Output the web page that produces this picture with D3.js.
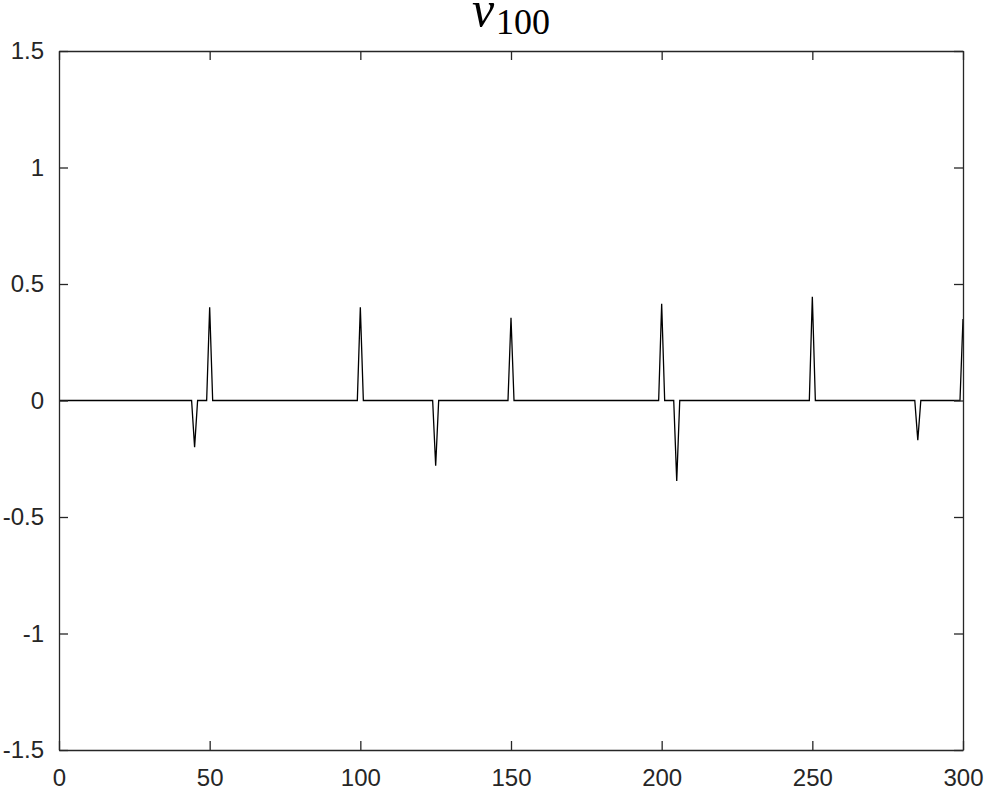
<!DOCTYPE html>
<html>
<head>
<meta charset="utf-8">
<script src="https://cdn.jsdelivr.net/npm/d3@7"></script>
<style>
html,body{margin:0;padding:0;background:#fff;}
svg{display:block;}
</style>
</head>
<body>
<script>
// Data: sparse signal v_100 sampled at integer n = 0..300; zero except at spikes
const sampleRange = [0, 300];
const spikeN = [45, 50, 100, 125, 150, 200, 205, 250, 285, 300];
const spikeV = [-0.20, 0.40, 0.40, -0.28, 0.355, 0.415, -0.345, 0.445, -0.17, 0.35];
const xTicks = [0, 50, 100, 150, 200, 250, 300];
const yTicks = [-1.5, -1, -0.5, 0, 0.5, 1, 1.5];
const yTickLabels = ["-1.5", "-1", "-0.5", "0", "0.5", "1", "1.5"];

const W = 986, H = 795;
const m = {left: 59, right: 963, top: 51, bottom: 750};

const spikeMap = new Map(spikeN.map((n, i) => [n, spikeV[i]]));
const data = d3.range(sampleRange[0], sampleRange[1] + 1).map(n => ({n, v: spikeMap.has(n) ? spikeMap.get(n) : 0}));

const svg = d3.select("body").append("svg").attr("width", W).attr("height", H);

const x = d3.scaleLinear().domain([0, 300]).range([m.left, m.right]);
const y = d3.scaleLinear().domain([-1.5, 1.5]).range([m.bottom, m.top]);

const axisColor = "#262626";
const tickLen = 9;
const fontFamily = "'Liberation Sans', Arial, Helvetica, sans-serif";

// line
svg.append("path")
  .datum(data)
  .attr("fill", "none")
  .attr("stroke", "#000")
  .attr("stroke-width", 1.3)
  .attr("stroke-linejoin", "miter")
  .attr("d", d3.line().x(d => x(d.n)).y(d => y(d.v)));

// axes (ticks inward)
const fmtY = d => yTickLabels[yTicks.indexOf(d)];
const bottomAxis = svg.append("g").attr("transform", `translate(0,${m.bottom})`)
  .call(d3.axisBottom(x).tickValues(xTicks).tickSize(-tickLen).tickPadding(28).tickSizeOuter(0));
const topAxis = svg.append("g").attr("transform", `translate(0,${m.top})`)
  .call(d3.axisTop(x).tickValues(xTicks).tickSize(-tickLen).tickFormat("").tickSizeOuter(0));
const leftAxis = svg.append("g").attr("transform", `translate(${m.left},0)`)
  .call(d3.axisLeft(y).tickValues(yTicks).tickFormat(fmtY).tickSize(-tickLen).tickPadding(15).tickSizeOuter(0));
const rightAxis = svg.append("g").attr("transform", `translate(${m.right},0)`)
  .call(d3.axisRight(y).tickValues(yTicks).tickFormat("").tickSize(-tickLen).tickSizeOuter(0));

[bottomAxis, topAxis, leftAxis, rightAxis].forEach(g => {
  g.select(".domain").attr("stroke", axisColor).attr("stroke-width", 1.3);
  g.selectAll(".tick line").attr("stroke", axisColor).attr("stroke-width", 1.3);
  g.selectAll(".tick text").attr("fill", "#262626").attr("font-size", 24).attr("font-family", fontFamily);
});
bottomAxis.selectAll(".tick text").attr("dy", "0.35em");

// title v_100
const title = svg.append("text")
  .attr("x", 511)
  .attr("y", 26)
  .attr("text-anchor", "middle")
  .attr("font-family", "'Liberation Serif', 'DejaVu Serif', serif")
  .attr("fill", "#000");
title.append("tspan").attr("font-style", "italic").attr("font-size", 50).text("v");
title.append("tspan").attr("font-size", 36).attr("dy", 8).attr("dx", 2).text("100");
</script>
</body>
</html>
